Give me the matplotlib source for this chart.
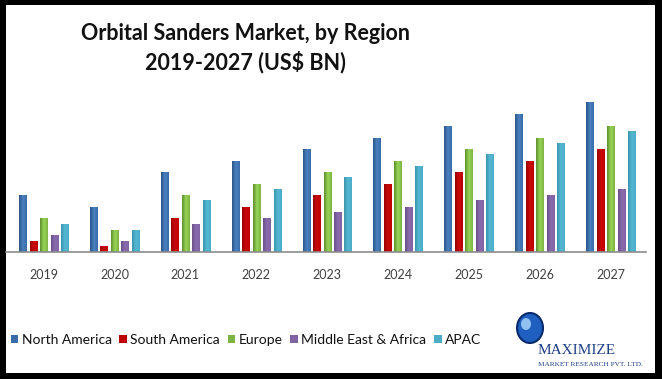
import numpy as np
import matplotlib.pyplot as plt
from matplotlib.patches import Rectangle, Ellipse
from matplotlib.colors import LinearSegmentedColormap

years = ["2019", "2020", "2021", "2022", "2023", "2024", "2025", "2026", "2027"]
regions = ["North America", "South America", "Europe", "Middle East & Africa", "APAC"]

# valeurs (US$ BN, echelle relative)
north_america = [5.7, 4.5, 8.0, 9.1, 10.3, 11.4, 12.6, 13.8, 15.0]
south_america = [1.1, 0.6, 3.4, 4.5, 5.7, 6.8, 8.0, 9.1, 10.3]
europe = [3.4, 2.2, 5.7, 6.8, 8.0, 9.1, 10.3, 11.4, 12.6]
middle_east_africa = [1.7, 1.1, 2.8, 3.4, 4.0, 4.5, 5.2, 5.7, 6.3]
apac = [2.8, 2.2, 5.2, 6.3, 7.5, 8.6, 9.8, 10.9, 12.1]

series = [north_america, south_america, europe, middle_east_africa, apac]
colors = ["#3a6ca8", "#c00000", "#7cb342", "#8064a2", "#4bacc6"]
dark = ["#2c5689", "#9a0000", "#5e8f2c", "#6a4f8a", "#3a95ae"]
light = ["#4a80c0", "#c80a0a", "#98d458", "#8a6cae", "#55b8d2"]

W, H = 662, 379
fig = plt.figure(figsize=(W / 100, H / 100), dpi=100)
fig.patch.set_facecolor("black")

# cadre blanc
fig.patches.append(Rectangle((6 / W, 6 / H), 649 / W, 368 / H, transform=fig.transFigure,
                             facecolor="white", edgecolor="none", zorder=-5))

ax = fig.add_axes([6 / W, (H - 252) / H, 640 / W, 160 / H])
ax.set_facecolor("none")
x = np.arange(len(years))
pitch = 0.148
width = 0.10
grad = np.linspace(0, 1, 50).reshape(1, -1)
for i, vals in enumerate(series):
    pos = x + (i - 2) * pitch
    ax.bar(pos, vals, width=width, color=colors[i], label=regions[i], zorder=2)
    # degrade horizontal sur chaque barre
    cmap = LinearSegmentedColormap.from_list("g%d" % i, [dark[i], light[i], colors[i]])
    for p, v in zip(pos, vals):
        ax.imshow(grad, extent=[p - width / 2, p + width / 2, 0, v], aspect="auto",
                  cmap=cmap, zorder=3, interpolation="bilinear")

ax.set_xlim(-0.53, 8.5)
ax.set_ylim(0, 16)
ax.set_xticks(x)
ax.set_xticklabels(years, fontsize=9, color="#404040", fontfamily="Lato")
ax.tick_params(axis="x", length=0, pad=12)
ax.set_yticks([])
for s in ["top", "right", "left"]:
    ax.spines[s].set_visible(False)
ax.spines["bottom"].set_color("#8c8c8c")
ax.spines["bottom"].set_linewidth(1.2)
ax.spines["bottom"].set_zorder(4)

fig.text(245 / W, 1 - 34 / H, "Orbital Sanders Market, by Region", ha="center", va="center",
         fontsize=15.5, fontweight="bold", fontfamily="Lato", color="#111111")
fig.text(245 / W, 1 - 62 / H, "2019-2027 (US$ BN)", ha="center", va="center",
         fontsize=15.5, fontweight="bold", fontfamily="Lato", color="#111111")

handles, labels = ax.get_legend_handles_labels()
leg = fig.legend(handles, labels, loc="center left", bbox_to_anchor=(-2 / W, 1 - 340 / H),
                 ncol=5, frameon=False, handlelength=0.55, handleheight=0.55,
                 handletextpad=0.25, columnspacing=0.55,
                 prop={"family": "Lato", "size": 10})
for t in leg.get_texts():
    t.set_color("#111111")

# logo
fig.patches.append(Ellipse((530 / W, 1 - 328 / H), 26 / W, 30 / H, transform=fig.transFigure,
                           facecolor="#1f5fbf", edgecolor="#0b2a6b", lw=1.5, zorder=5))
fig.patches.append(Ellipse((526 / W, 1 - 324 / H), 10 / W, 12 / H, transform=fig.transFigure,
                           facecolor="#8fc0f0", edgecolor="none", zorder=6))
fig.text(538 / W, 1 - 351 / H, "MAXIMIZE", fontsize=11, fontfamily="Liberation Serif",
         color="#1d3f86", va="center", ha="left")
fig.text(538 / W, 1 - 365 / H, "MARKET RESEARCH PVT. LTD.", fontsize=5.2,
         fontfamily="Liberation Serif", color="#1d3f86", va="center", ha="left")

fig.savefig("out.png", dpi=100, facecolor=fig.get_facecolor())
